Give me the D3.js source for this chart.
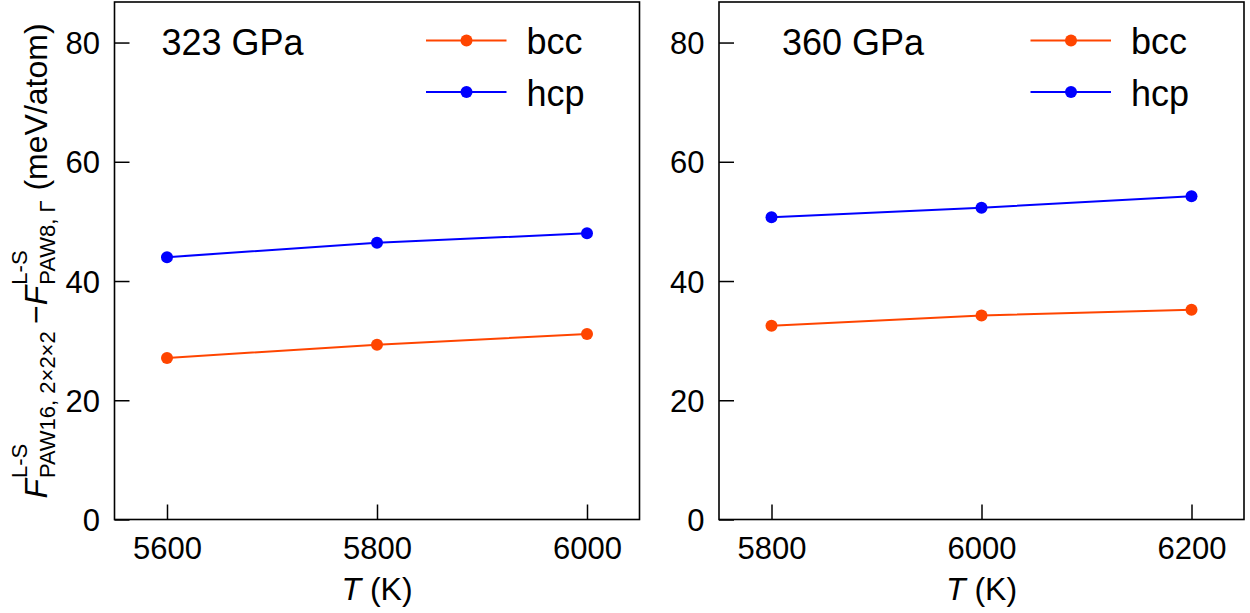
<!DOCTYPE html>
<html><head><meta charset="utf-8">
<script src="https://cdn.jsdelivr.net/npm/d3@7"></script>
<style>
body{margin:0;background:#fff}
svg{display:block}
text{font-family:"Liberation Sans", Arial, Helvetica, sans-serif; fill:#000; white-space:pre}
</style>
</head><body>
<svg id="c" width="1250" height="613"></svg>
<script>
// ---- data ----
const temps323 = [5600, 5800, 6000];
const bcc323 = [27.1, 29.3, 31.1];
const hcp323 = [44.0, 46.4, 48.0];
const temps360 = [5800, 6000, 6200];
const bcc360 = [32.5, 34.2, 35.2];
const hcp360 = [50.7, 52.3, 54.2];
const yTicks = [0, 20, 40, 60, 80];
const xTicks323 = [5600, 5800, 6000];
const xTicks360 = [5800, 6000, 6200];
const pressureLabels = ["323 GPa", "360 GPa"];
const seriesNames = ["bcc", "hcp"];
const seriesColors = ["#FF4500", "#0000FF"];

const panels = [
  {x0: 114.5, x1: 639.5, xDomain: [5550, 6050], temps: temps323, series: [bcc323, hcp323], ticks: xTicks323, label: pressureLabels[0], annotDx: 47},
  {x0: 719, x1: 1244, xDomain: [5750, 6250], temps: temps360, series: [bcc360, hcp360], ticks: xTicks360, label: pressureLabels[1], annotDx: 63}
];
const yTop = 2, yBot = 519.5;
const svg = d3.select("#c");
const y = d3.scaleLinear().domain([0, 86.8]).range([yBot, yTop]);

panels.forEach(p => {
  const x = d3.scaleLinear().domain(p.xDomain).range([p.x0, p.x1]);
  const g = svg.append("g");

  // axes
  const ya = g.append("g").attr("transform", `translate(${p.x0},0)`)
    .call(d3.axisLeft(y).tickValues(yTicks).tickSizeInner(-15).tickSizeOuter(0).tickPadding(14.5));
  const xa = g.append("g").attr("transform", `translate(0,${yBot})`)
    .call(d3.axisBottom(x).tickValues(p.ticks).tickFormat(d3.format("d")).tickSizeInner(-15).tickSizeOuter(0).tickPadding(16));
  [ya, xa].forEach(a => {
    a.select(".domain").remove();
    a.selectAll(".tick line").attr("stroke", "#000").attr("stroke-width", 1.5);
    a.selectAll(".tick text").style("font-size", "31px").attr("fill", "#000");
  });
  ya.selectAll(".tick text").attr("dy", "0.36em");
  xa.selectAll(".tick text").attr("dy", "0").attr("y", 39.5);

  // frame
  g.append("rect").attr("x", p.x0).attr("y", yTop).attr("width", p.x1 - p.x0).attr("height", yBot - yTop)
    .attr("fill", "none").attr("stroke", "#000").attr("stroke-width", 1.6);

  // series
  p.series.forEach((vals, i) => {
    const pts = p.temps.map((t, k) => [t, vals[k]]);
    g.append("path").datum(pts)
      .attr("d", d3.line().x(d => x(d[0])).y(d => y(d[1])))
      .attr("fill", "none").attr("stroke", seriesColors[i]).attr("stroke-width", 2);
    g.selectAll(null).data(pts).enter().append("circle")
      .attr("cx", d => x(d[0])).attr("cy", d => y(d[1])).attr("r", 6)
      .attr("fill", seriesColors[i]);
  });

  // annotation
  g.append("text").attr("x", p.x0 + p.annotDx).attr("y", 55).style("font-size", "36px").text(p.label);

  // legend
  seriesNames.forEach((name, i) => {
    const ly = 40.5 + i * 51.5;
    g.append("line").attr("x1", p.x0 + 311.5).attr("x2", p.x0 + 392).attr("y1", ly).attr("y2", ly)
      .attr("stroke", seriesColors[i]).attr("stroke-width", 2);
    g.append("circle").attr("cx", p.x0 + 352).attr("cy", ly).attr("r", 6).attr("fill", seriesColors[i]);
    g.append("text").attr("x", p.x0 + 412).attr("y", ly + 13.5).style("font-size", "36px").text(name);
  });

  // x label
  const xl = g.append("text").attr("x", (p.x0 + p.x1) / 2).attr("y", 600)
    .attr("text-anchor", "middle").style("font-size", "32px");
  xl.append("tspan").style("font-style", "italic").text("T");
  xl.append("tspan").text(" (K)");
});

// y label (mathtext-like layout)
const yl = svg.append("g").attr("transform", `translate(47,261) rotate(-90)`);
const mainFs = 32, scrFs = 22;
function measure(txt, fs, italic) {
  const t = yl.append("text").style("font-size", fs + "px").style("font-style", italic ? "italic" : "normal").text(txt);
  const w = t.node().getComputedTextLength();
  t.remove();
  return w;
}
const parts = [
  {type: "main", text: "F", italic: true},
  {type: "script", sup: "L-S", sub: "PAW16, 2×2×2"},
  {type: "main", text: "\u2009\u2212", italic: false},
  {type: "main", text: "F", italic: true},
  {type: "script", sup: "L-S", sub: "PAW8, Γ"},
  {type: "main", text: "\u00a0(meV/atom)", italic: false}
];
let widths = parts.map(pt => pt.type === "main"
  ? measure(pt.text, mainFs, pt.italic)
  : Math.max(measure(pt.sup, scrFs, false), measure(pt.sub, scrFs, false)) + 2);
const total = d3.sum(widths);
let cx = -total / 2;
parts.forEach((pt, i) => {
  if (pt.type === "main") {
    yl.append("text").attr("x", cx).attr("y", 0).style("font-size", mainFs + "px")
      .style("font-style", pt.italic ? "italic" : "normal").text(pt.text);
  } else {
    yl.append("text").attr("x", cx + 1).attr("y", -20).style("font-size", scrFs + "px").text(pt.sup);
    yl.append("text").attr("x", cx + 1).attr("y", 8).style("font-size", scrFs + "px").text(pt.sub);
  }
  cx += widths[i];
});
</script>
</body></html>
